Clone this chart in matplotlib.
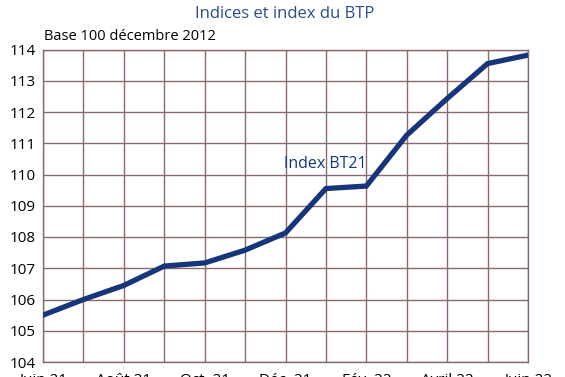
import matplotlib.pyplot as plt
import numpy as np

# Index BT21, base 100 décembre 2012
months = ["Juin 21", "Juil. 21", "Août 21", "Sept. 21", "Oct. 21", "Nov. 21",
          "Déc. 21", "Janv. 22", "Fév. 22", "Mars 22", "Avril 22", "Mai 22", "Juin 22"]
bt21 = [105.5, 106.0, 106.45, 107.07, 107.17, 107.58, 108.13,
        109.55, 109.63, 111.26, 112.43, 113.55, 113.82]
tick_labels = ["Juin 21", "", "Août 21", "", "Oct. 21", "", "Déc. 21",
               "", "Fév. 22", "", "Avril 22", "", "Juin 22"]

plt.rcParams['font.family'] = ['Open Sans', 'DejaVu Sans']

navy = '#16357a'
grid_col = '#8a6a6a'

fig = plt.figure(figsize=(5.65, 3.77), dpi=100)
# plot area: x 43..528, y 49..362 px
ax = fig.add_axes([43 / 565, 1 - 362 / 377, 485 / 565, 312.5 / 377])

x = np.arange(len(months))
ax.plot(x, bt21, color=navy, lw=3.8, solid_joinstyle='miter', zorder=3)

ax.set_xlim(0, len(months) - 1)
ax.set_ylim(104, 114)
ax.set_xticks(x)
ax.set_xticklabels(tick_labels, fontsize=11)
ax.set_yticks(np.arange(104, 115))
ax.tick_params(axis='y', labelsize=11, length=0, pad=5)
ax.tick_params(axis='x', length=0, pad=8)

ax.grid(True, color=grid_col, lw=1.0)
for s in ax.spines.values():
    s.set_color(grid_col)
    s.set_linewidth(1.0)

ax.text(6.98, 110.33, "Index BT21", color=navy, fontsize=11.5,
        ha='center', va='center')
fig.text(44 / 565, 1 - 37 / 377, "Base 100 décembre 2012", fontsize=10.5,
         ha='left', va='center')
fig.text(285 / 565, 1 - 14 / 377, "Indices et index du BTP", fontsize=12,
         color='#2b4c8c', ha='center', va='center')

plt.savefig('out.png', dpi=100)
